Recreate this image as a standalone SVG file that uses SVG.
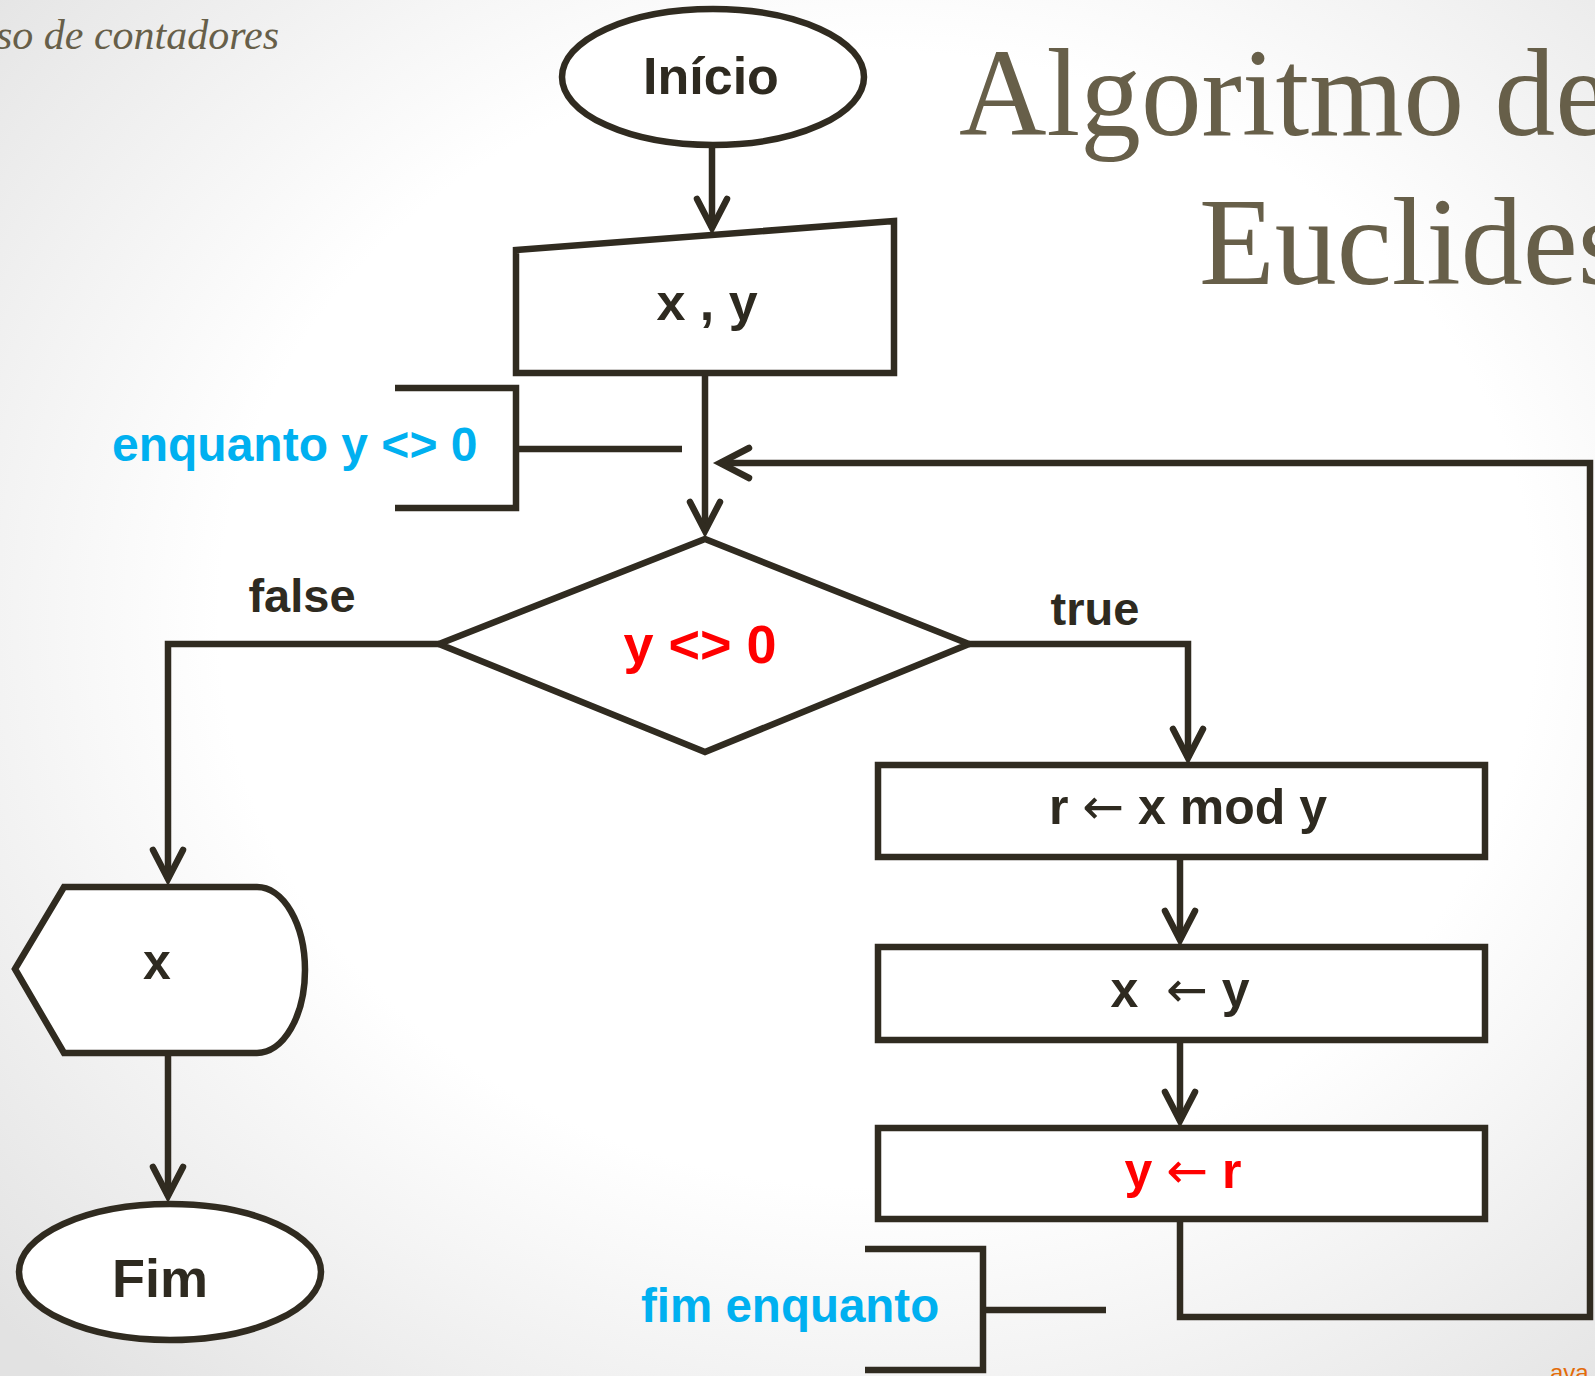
<svg xmlns="http://www.w3.org/2000/svg" width="1595" height="1376" viewBox="0 0 1595 1376">
<defs>
<radialGradient id="bg" cx="0.55" cy="0.45" r="0.75">
<stop offset="0.55" stop-color="#ffffff"/>
<stop offset="1" stop-color="#e2e2e2"/>
</radialGradient>
<marker id="ah" markerUnits="userSpaceOnUse" viewBox="-40 -20 48 40" refX="0" refY="0" markerWidth="48" markerHeight="40" orient="auto">
<path d="M-29,-15 L0,0 L-29,15" fill="none" stroke="#302B20" stroke-width="6.5" stroke-linecap="round" stroke-linejoin="miter"/>
</marker>
<style>
.s{fill:#ffffff;stroke:#302B20;stroke-width:6.5;stroke-linejoin:miter}
.c{fill:none;stroke:#302B20;stroke-width:6.5}
.t{font-family:"Liberation Sans",Arial,sans-serif;font-weight:bold;fill:#2E2A20;text-anchor:middle}
.ar{font-family:"DejaVu Sans",sans-serif;font-weight:normal}
.blue{font-family:"Liberation Sans",Arial,sans-serif;font-weight:bold;fill:#00B0F0}
.red{fill:#FF0000}
.title{font-family:"Liberation Serif","Times New Roman",serif;fill:#675F49}
</style>
</defs>
<rect x="0" y="0" width="1595" height="1376" fill="url(#bg)"/>

<g id="header">
<text class="title" x="279" y="49" font-size="42" font-style="italic" text-anchor="end">so de contadores</text>
<text class="title" x="959" y="135" font-size="125" textLength="650" lengthAdjust="spacingAndGlyphs">Algoritmo de</text>
<text class="title" x="1199" y="284" font-size="125" textLength="427" lengthAdjust="spacingAndGlyphs">Euclides</text>
<text x="1550" y="1381" font-family="Liberation Sans,Arial,sans-serif" font-size="24" fill="#E36C0A">ava</text>
</g>

<g id="connectors">
<path class="c" d="M712,147 L712,228" marker-end="url(#ah)"/>
<path class="c" d="M705,373 L705,531" marker-end="url(#ah)"/>
<path class="c" d="M1180,1219 L1180,1317 L1590,1317 L1590,463 L720,463" marker-end="url(#ah)"/>
<path class="c" d="M439,644 L168,644 L168,879" marker-end="url(#ah)"/>
<path class="c" d="M969,644 L1188,644 L1188,758" marker-end="url(#ah)"/>
<path class="c" d="M1180,857 L1180,940" marker-end="url(#ah)"/>
<path class="c" d="M1180,1040 L1180,1121" marker-end="url(#ah)"/>
<path class="c" d="M168,1055 L168,1196" marker-end="url(#ah)"/>
</g>

<g id="bracket-enquanto">
<path class="c" d="M395,388 L516,388 L516,508 L395,508"/>
<path class="c" d="M516,449 L682,449"/>
<text class="blue" x="112" y="461" font-size="48">enquanto y &lt;&gt; 0</text>
</g>

<g id="bracket-fim">
<path class="c" d="M865,1249 L983,1249 L983,1370 L865,1370"/>
<path class="c" d="M983,1310 L1106,1310"/>
<text class="blue" x="641" y="1322" font-size="47.5">fim enquanto</text>
</g>

<g id="inicio">
<ellipse class="s" cx="713" cy="77" rx="151" ry="68"/>
<text class="t" x="711" y="94" font-size="52">Início</text>
</g>

<g id="entrada">
<path class="s" d="M516,250 L894,221 L894,373 L516,373 Z"/>
<text class="t" x="707" y="320" font-size="52">x , y</text>
</g>

<g id="decisao">
<path class="s" d="M439,644 L705,539 L969,644 L705,752 Z"/>
<text class="t red" x="700" y="663" font-size="54">y &lt;&gt; 0</text>
</g>

<text class="t" x="302" y="612" font-size="47">false</text>
<text class="t" x="1095" y="625" font-size="47">true</text>

<g id="saida">
<path class="s" d="M15,969 L64,887 L257,887 A48,83 0 0 1 257,1053 L64,1053 Z"/>
<text class="t" x="157" y="979" font-size="50">x</text>
</g>

<g id="fim">
<ellipse class="s" cx="170" cy="1272" rx="151" ry="68"/>
<text class="t" x="160" y="1297" font-size="54">Fim</text>
</g>

<g id="passo1">
<rect class="s" x="878" y="765" width="607" height="92"/>
<text class="t" x="1188" y="824" font-size="50">r <tspan class="ar">←</tspan> x mod y</text>
</g>

<g id="passo2">
<rect class="s" x="878" y="947" width="607" height="93"/>
<text class="t" x="1180" y="1007" font-size="50">x &#160;<tspan class="ar">←</tspan> y</text>
</g>

<g id="passo3">
<rect class="s" x="878" y="1128" width="607" height="91"/>
<text class="t red" x="1183" y="1188" font-size="50">y <tspan class="ar">←</tspan> r</text>
</g>
</svg>
